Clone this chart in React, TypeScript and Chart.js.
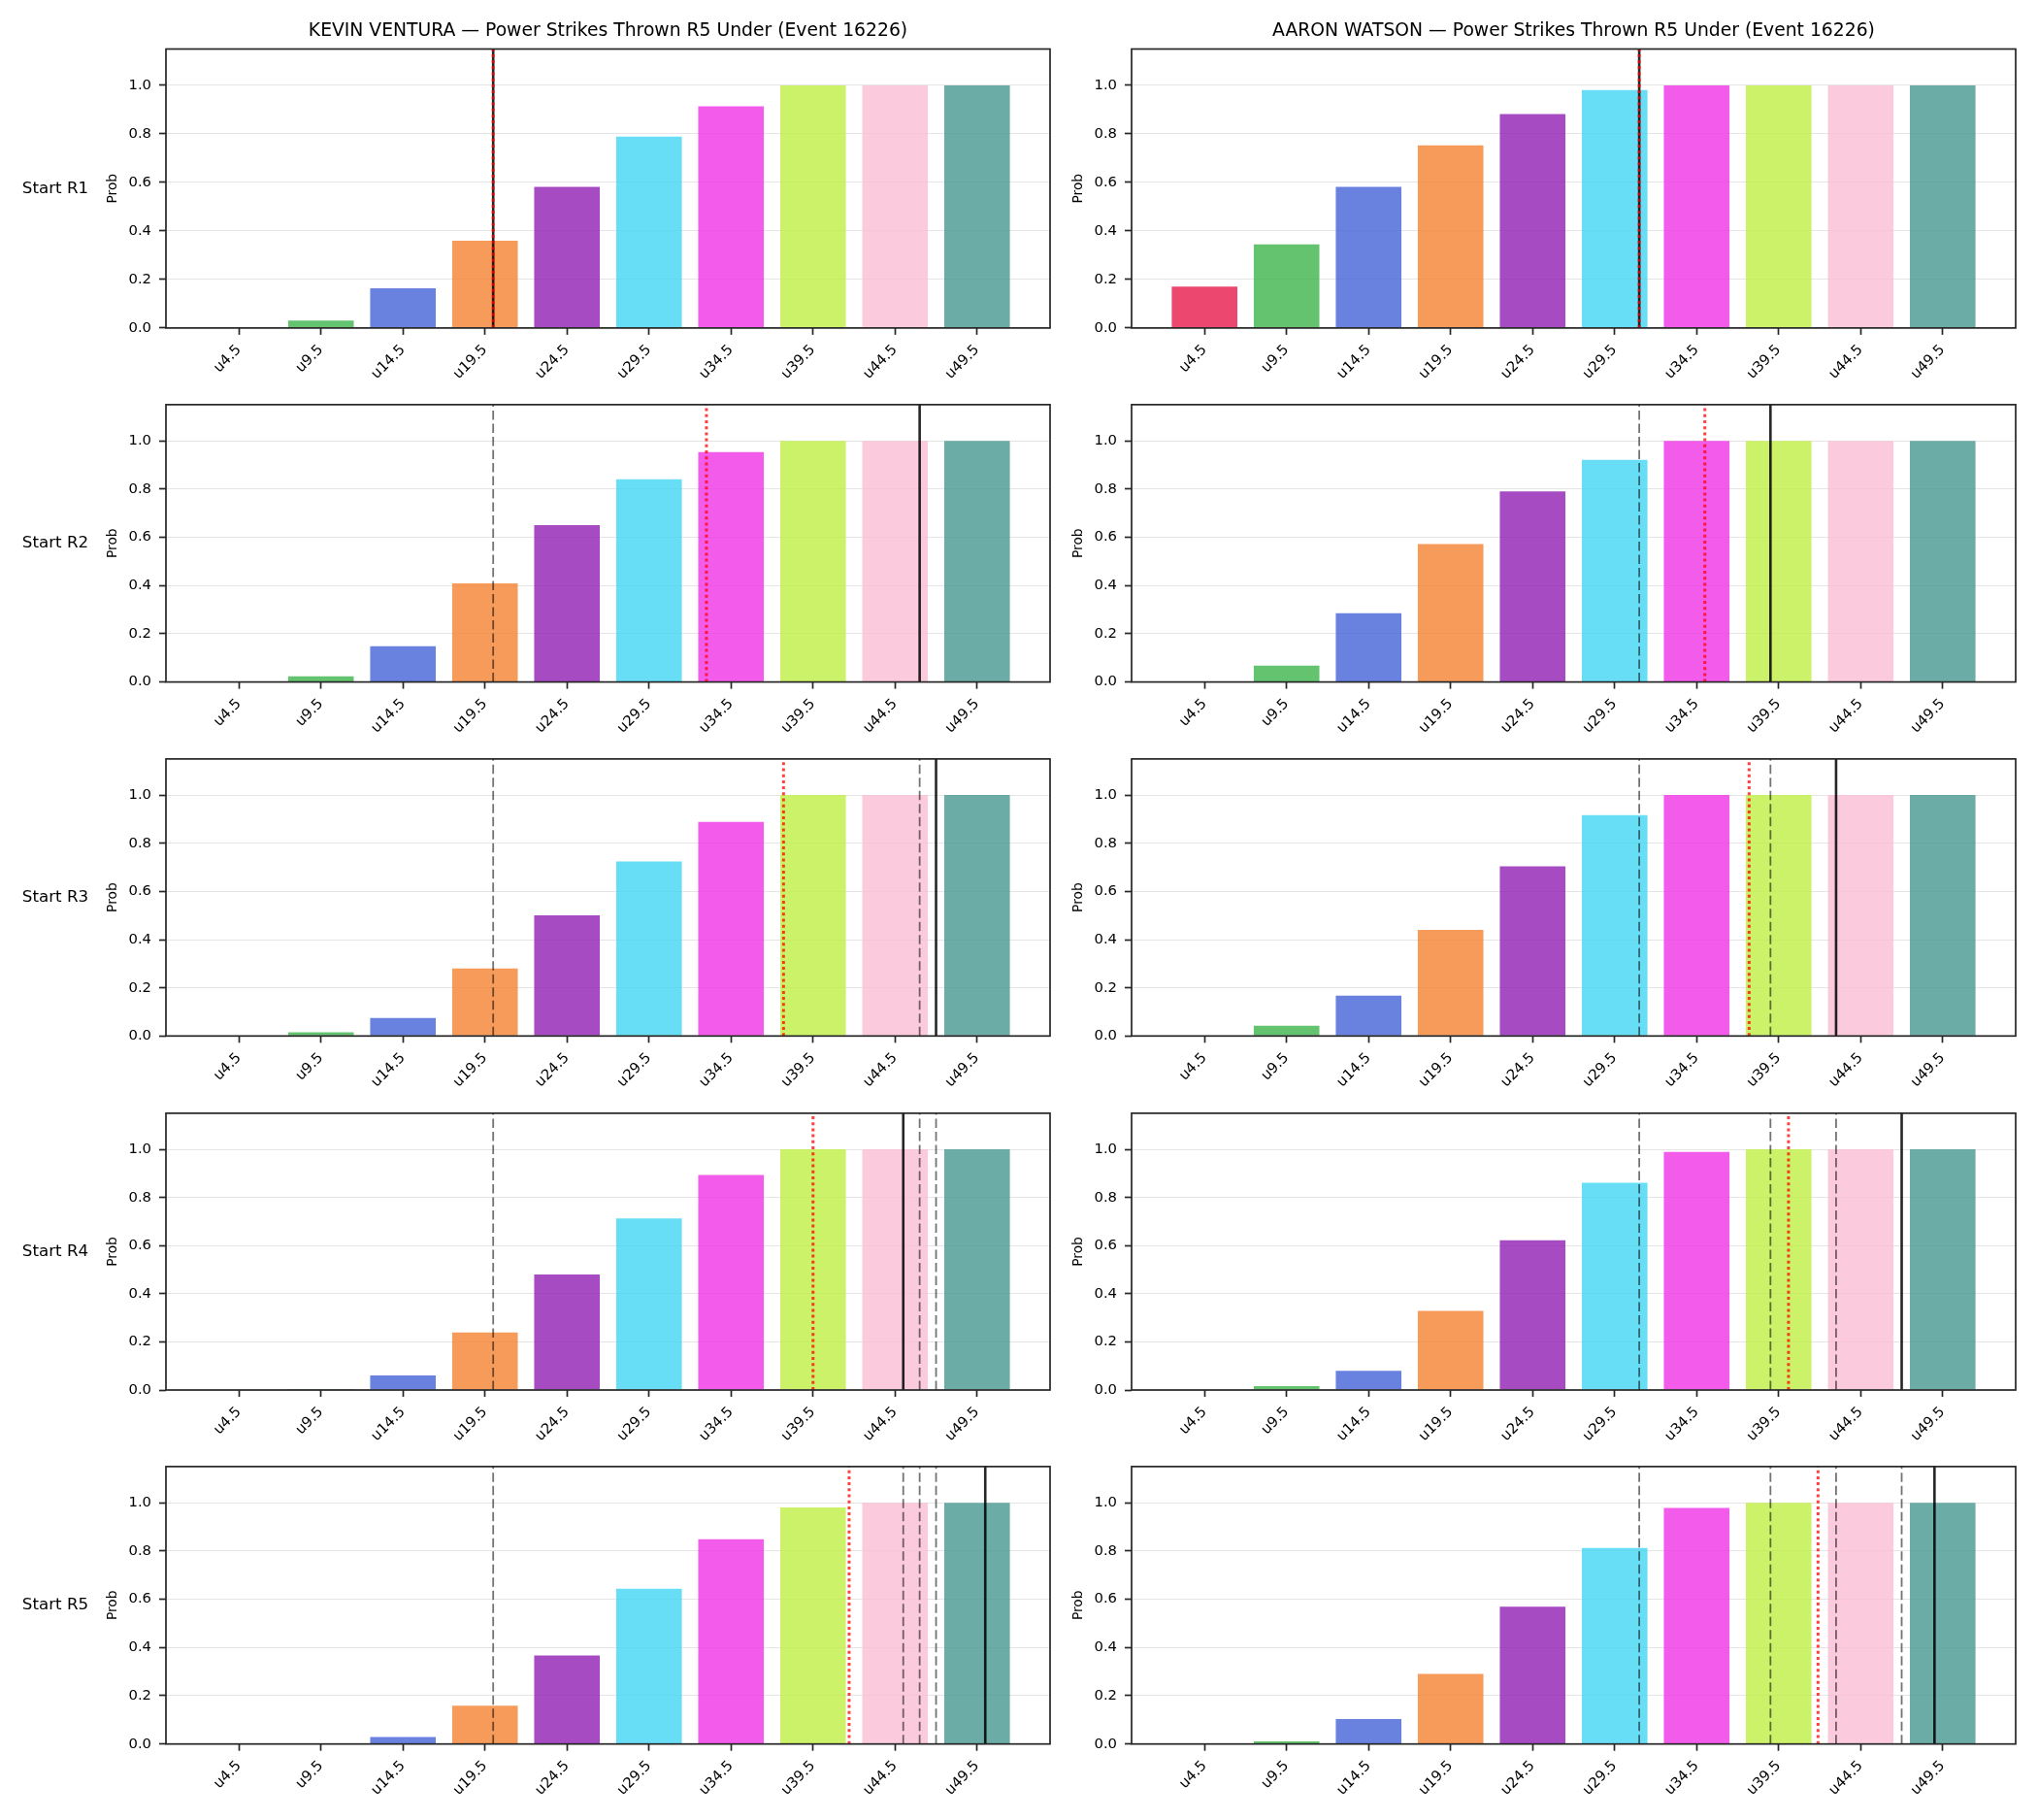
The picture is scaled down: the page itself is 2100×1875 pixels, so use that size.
import { useEffect, useRef } from "react";
import { Chart, registerables } from "chart.js";

Chart.register(...registerables);
Chart.defaults.font.family = '"DejaVu Sans", "Liberation Sans", sans-serif';

// ---- data ----
const FIGHTERS = ["KEVIN VENTURA", "AARON WATSON"];
const TITLE_SUFFIX = "Power Strikes Thrown R5 Under (Event 16226)";
const THRESHOLDS = [4.5, 9.5, 14.5, 19.5, 24.5, 29.5, 34.5, 39.5, 44.5, 49.5];
const TICK_LABELS = ["u4.5", "u9.5", "u14.5", "u19.5", "u24.5", "u29.5", "u34.5", "u39.5", "u44.5", "u49.5"];
const ROUND_LABELS = ["Start R1", "Start R2", "Start R3", "Start R4", "Start R5"];
const Y_TICKS = [0, 0.2, 0.4, 0.6, 0.8, 1.0];
const BAR_COLORS = [
  "rgba(230,25,75,0.8)",
  "rgba(60,180,75,0.8)",
  "rgba(67,99,216,0.8)",
  "rgba(245,130,49,0.8)",
  "rgba(145,30,180,0.8)",
  "rgba(66,212,244,0.8)",
  "rgba(240,50,230,0.8)",
  "rgba(191,239,69,0.8)",
  "rgba(250,190,212,0.8)",
  "rgba(70,153,144,0.8)",
];

// Kevin Ventura: probability of finishing under each threshold, by starting round
const KEVIN_R1 = [0, 0.031, 0.164, 0.36, 0.582, 0.789, 0.914, 1.0, 1.0, 1.0];
const KEVIN_R2 = [0, 0.024, 0.148, 0.409, 0.65, 0.841, 0.953, 1.0, 1.0, 1.0];
const KEVIN_R3 = [0, 0.015, 0.075, 0.28, 0.501, 0.724, 0.889, 1.0, 1.0, 1.0];
const KEVIN_R4 = [0, 0.004, 0.06, 0.239, 0.48, 0.713, 0.893, 1.0, 1.0, 1.0];
const KEVIN_R5 = [0, 0, 0.029, 0.159, 0.367, 0.644, 0.849, 0.981, 1.0, 1.0];
const KEVIN_LINES = [20, 46, 47, 45, 50];
const KEVIN_PROJECTIONS = [20, 33, 37.7, 39.5, 41.7];

// Aaron Watson
const AARON_R1 = [0.171, 0.345, 0.582, 0.753, 0.882, 0.981, 1.0, 1.0, 1.0, 1.0];
const AARON_R2 = [0, 0.068, 0.285, 0.572, 0.79, 0.921, 1.0, 1.0, 1.0, 1.0];
const AARON_R3 = [0, 0.043, 0.167, 0.44, 0.704, 0.917, 1.0, 1.0, 1.0, 1.0];
const AARON_R4 = [0, 0.016, 0.08, 0.329, 0.622, 0.861, 0.989, 1.0, 1.0, 1.0];
const AARON_R5 = [0, 0.011, 0.103, 0.291, 0.569, 0.813, 0.979, 1.0, 1.0, 1.0];
const AARON_LINES = [31, 39, 43, 47, 49];
const AARON_PROJECTIONS = [31, 35, 37.7, 40.1, 41.9];

const PROBS = [
  [KEVIN_R1, KEVIN_R2, KEVIN_R3, KEVIN_R4, KEVIN_R5],
  [AARON_R1, AARON_R2, AARON_R3, AARON_R4, AARON_R5],
];
const LINES = [KEVIN_LINES, AARON_LINES];
const PROJECTIONS = [KEVIN_PROJECTIONS, AARON_PROJECTIONS];

// ---- layout (px) ----
const AXES_TOP = [50.5, 415.2, 779.9, 1144.6, 1509.3];
const AXES_H = 287.4;
const COLUMNS = [
  { canvasLeft: 0, canvasWidth: 1095, areaLeft: 171, areaRight: 1082, probCenter: 116.7 },
  { canvasLeft: 1095, canvasWidth: 1005, areaLeft: 1166, areaRight: 2077, probCenter: 1111.6 },
];
const TICK_FONT = 14.8;
const PROB_FONT = 13.8;
const TITLE_FONT = 18.75;
const ROW_FONT = 16.7;
const SPINE = "#262626";

function Panel({ col, row }: { col: number; row: number }) {
  const ref = useRef<HTMLCanvasElement | null>(null);
  const c = COLUMNS[col];
  const canvasTop = row === 0 ? 0 : Math.round(AXES_TOP[row]) - 15;
  const padTop = row === 0 ? 0 : AXES_TOP[row] - canvasTop;
  const bottom = AXES_TOP[row] + AXES_H;
  const canvasH = Math.round(bottom + 60) - canvasTop;
  const xHeight = canvasTop + canvasH - bottom;
  const probHalf = (PROB_FONT * 1.2) / 2;
  const padLeft = c.probCenter - c.canvasLeft - probHalf;
  const yWidth = c.areaLeft - c.canvasLeft - padLeft;
  const padRight = c.canvasLeft + c.canvasWidth - c.areaRight;

  useEffect(() => {
    if (!ref.current) return;
    const probs = PROBS[col][row];
    const line = LINES[col][row];
    const previous = LINES[col].slice(0, row);
    const projection = PROJECTIONS[col][row];
    const step = THRESHOLDS[1] - THRESHOLDS[0];
    const xMin = THRESHOLDS[0] - step * 0.89;
    const xMax = THRESHOLDS[THRESHOLDS.length - 1] + step * 0.89;

    const overlay = {
      id: "panelOverlay",
      afterDraw(chart: any) {
        const { ctx, chartArea: a, scales } = chart;
        const xs = scales.x;
        ctx.save();
        ctx.beginPath();
        ctx.rect(a.left, a.top, a.right - a.left, a.bottom - a.top);
        ctx.clip();
        // earlier rounds' lines
        ctx.strokeStyle = "rgba(0,0,0,0.55)";
        ctx.lineWidth = 1.8;
        ctx.setLineDash([9.5, 4]);
        for (const v of previous) {
          const px = xs.getPixelForValue(v);
          ctx.beginPath();
          ctx.moveTo(px, a.bottom);
          ctx.lineTo(px, a.top);
          ctx.stroke();
        }
        // current line
        ctx.setLineDash([]);
        ctx.strokeStyle = "rgba(0,0,0,0.85)";
        ctx.lineWidth = 2.6;
        let px = xs.getPixelForValue(line);
        ctx.beginPath();
        ctx.moveTo(px, a.bottom);
        ctx.lineTo(px, a.top);
        ctx.stroke();
        // projection
        ctx.strokeStyle = "rgba(255,0,0,0.75)";
        ctx.lineWidth = 3;
        ctx.setLineDash([3, 3.2]);
        px = xs.getPixelForValue(projection);
        ctx.beginPath();
        ctx.moveTo(px, a.bottom);
        ctx.lineTo(px, a.top);
        ctx.stroke();
        ctx.restore();

        // frame
        ctx.save();
        ctx.strokeStyle = SPINE;
        ctx.lineWidth = 1.7;
        ctx.strokeRect(a.left, a.top, a.right - a.left, a.bottom - a.top);
        if (col === 0) {
          ctx.fillStyle = "#000";
          ctx.font = `${ROW_FONT}px "DejaVu Sans"`;
          ctx.textAlign = "center";
          ctx.textBaseline = "middle";
          ctx.fillText(ROUND_LABELS[row], 57 - c.canvasLeft, (a.top + a.bottom) / 2);
        }
        ctx.restore();
      },
    };

    const chart = new Chart(ref.current, {
      type: "bar",
      data: {
        datasets: [
          {
            data: THRESHOLDS.map((x, i) => ({ x, y: probs[i] })),
            backgroundColor: BAR_COLORS,
            borderWidth: 0,
            barPercentage: 0.8,
            categoryPercentage: 1,
          },
        ],
      },
      options: {
        animation: false,
        responsive: false,
        maintainAspectRatio: false,
        devicePixelRatio: 1,
        layout: { padding: { left: padLeft, right: padRight, top: padTop, bottom: 0 } },
        plugins: {
          legend: { display: false },
          tooltip: { enabled: false },
          title: {
            display: row === 0,
            text: `${FIGHTERS[col]} — ${TITLE_SUFFIX}`,
            color: "#000",
            fullSize: false,
            font: { size: TITLE_FONT, weight: "normal", lineHeight: 1.2 },
            padding: { top: 20.5, bottom: AXES_TOP[0] - 20.5 - TITLE_FONT * 1.2 },
          },
        },
        scales: {
          x: {
            type: "linear",
            min: xMin,
            max: xMax,
            offset: false,
            afterBuildTicks: (s: any) => {
              s.ticks = THRESHOLDS.map((v) => ({ value: v }));
            },
            afterFit: (s: any) => {
              s.height = xHeight;
            },
            ticks: {
              autoSkip: false,
              minRotation: 45,
              maxRotation: 45,
              padding: 7,
              color: "#000",
              font: { size: TICK_FONT },
              callback: (_v: any, i: number) => TICK_LABELS[i],
            },
            grid: {
              display: true,
              offset: false,
              drawOnChartArea: false,
              drawTicks: true,
              tickLength: 7,
              tickWidth: 1.7,
              tickColor: SPINE,
            },
            border: { display: false },
          },
          y: {
            min: 0,
            max: 1.15,
            z: 1,
            afterBuildTicks: (s: any) => {
              s.ticks = Y_TICKS.map((v) => ({ value: v }));
            },
            afterFit: (s: any) => {
              s.width = yWidth;
            },
            ticks: {
              padding: 8,
              color: "#000",
              font: { size: TICK_FONT },
              callback: (v: any) => Number(v).toFixed(1),
            },
            grid: {
              color: "rgba(0,0,0,0.1)",
              lineWidth: 1,
              tickColor: SPINE,
              tickLength: 7,
              tickWidth: 1.7,
            },
            border: { display: false },
            title: {
              display: true,
              text: "Prob",
              color: "#000",
              padding: 0,
              font: { size: PROB_FONT, lineHeight: 1.2 },
            },
          },
        },
      },
      plugins: [overlay],
    } as any);
    return () => chart.destroy();
  }, [col, row]);

  return (
    <canvas
      ref={ref}
      width={c.canvasWidth}
      height={canvasH}
      style={{
        position: "absolute",
        left: c.canvasLeft,
        top: canvasTop,
        width: c.canvasWidth,
        height: canvasH,
      }}
    />
  );
}

export default function App() {
  const panels = [];
  for (let row = 0; row < 5; row++) {
    for (let col = 0; col < 2; col++) {
      panels.push(<Panel key={`${row}-${col}`} col={col} row={row} />);
    }
  }
  return (
    <div
      style={{
        position: "absolute",
        left: 0,
        top: 0,
        width: 2100,
        height: 1875,
        background: "#fff",
        overflow: "hidden",
      }}
    >
      {panels}
    </div>
  );
}
